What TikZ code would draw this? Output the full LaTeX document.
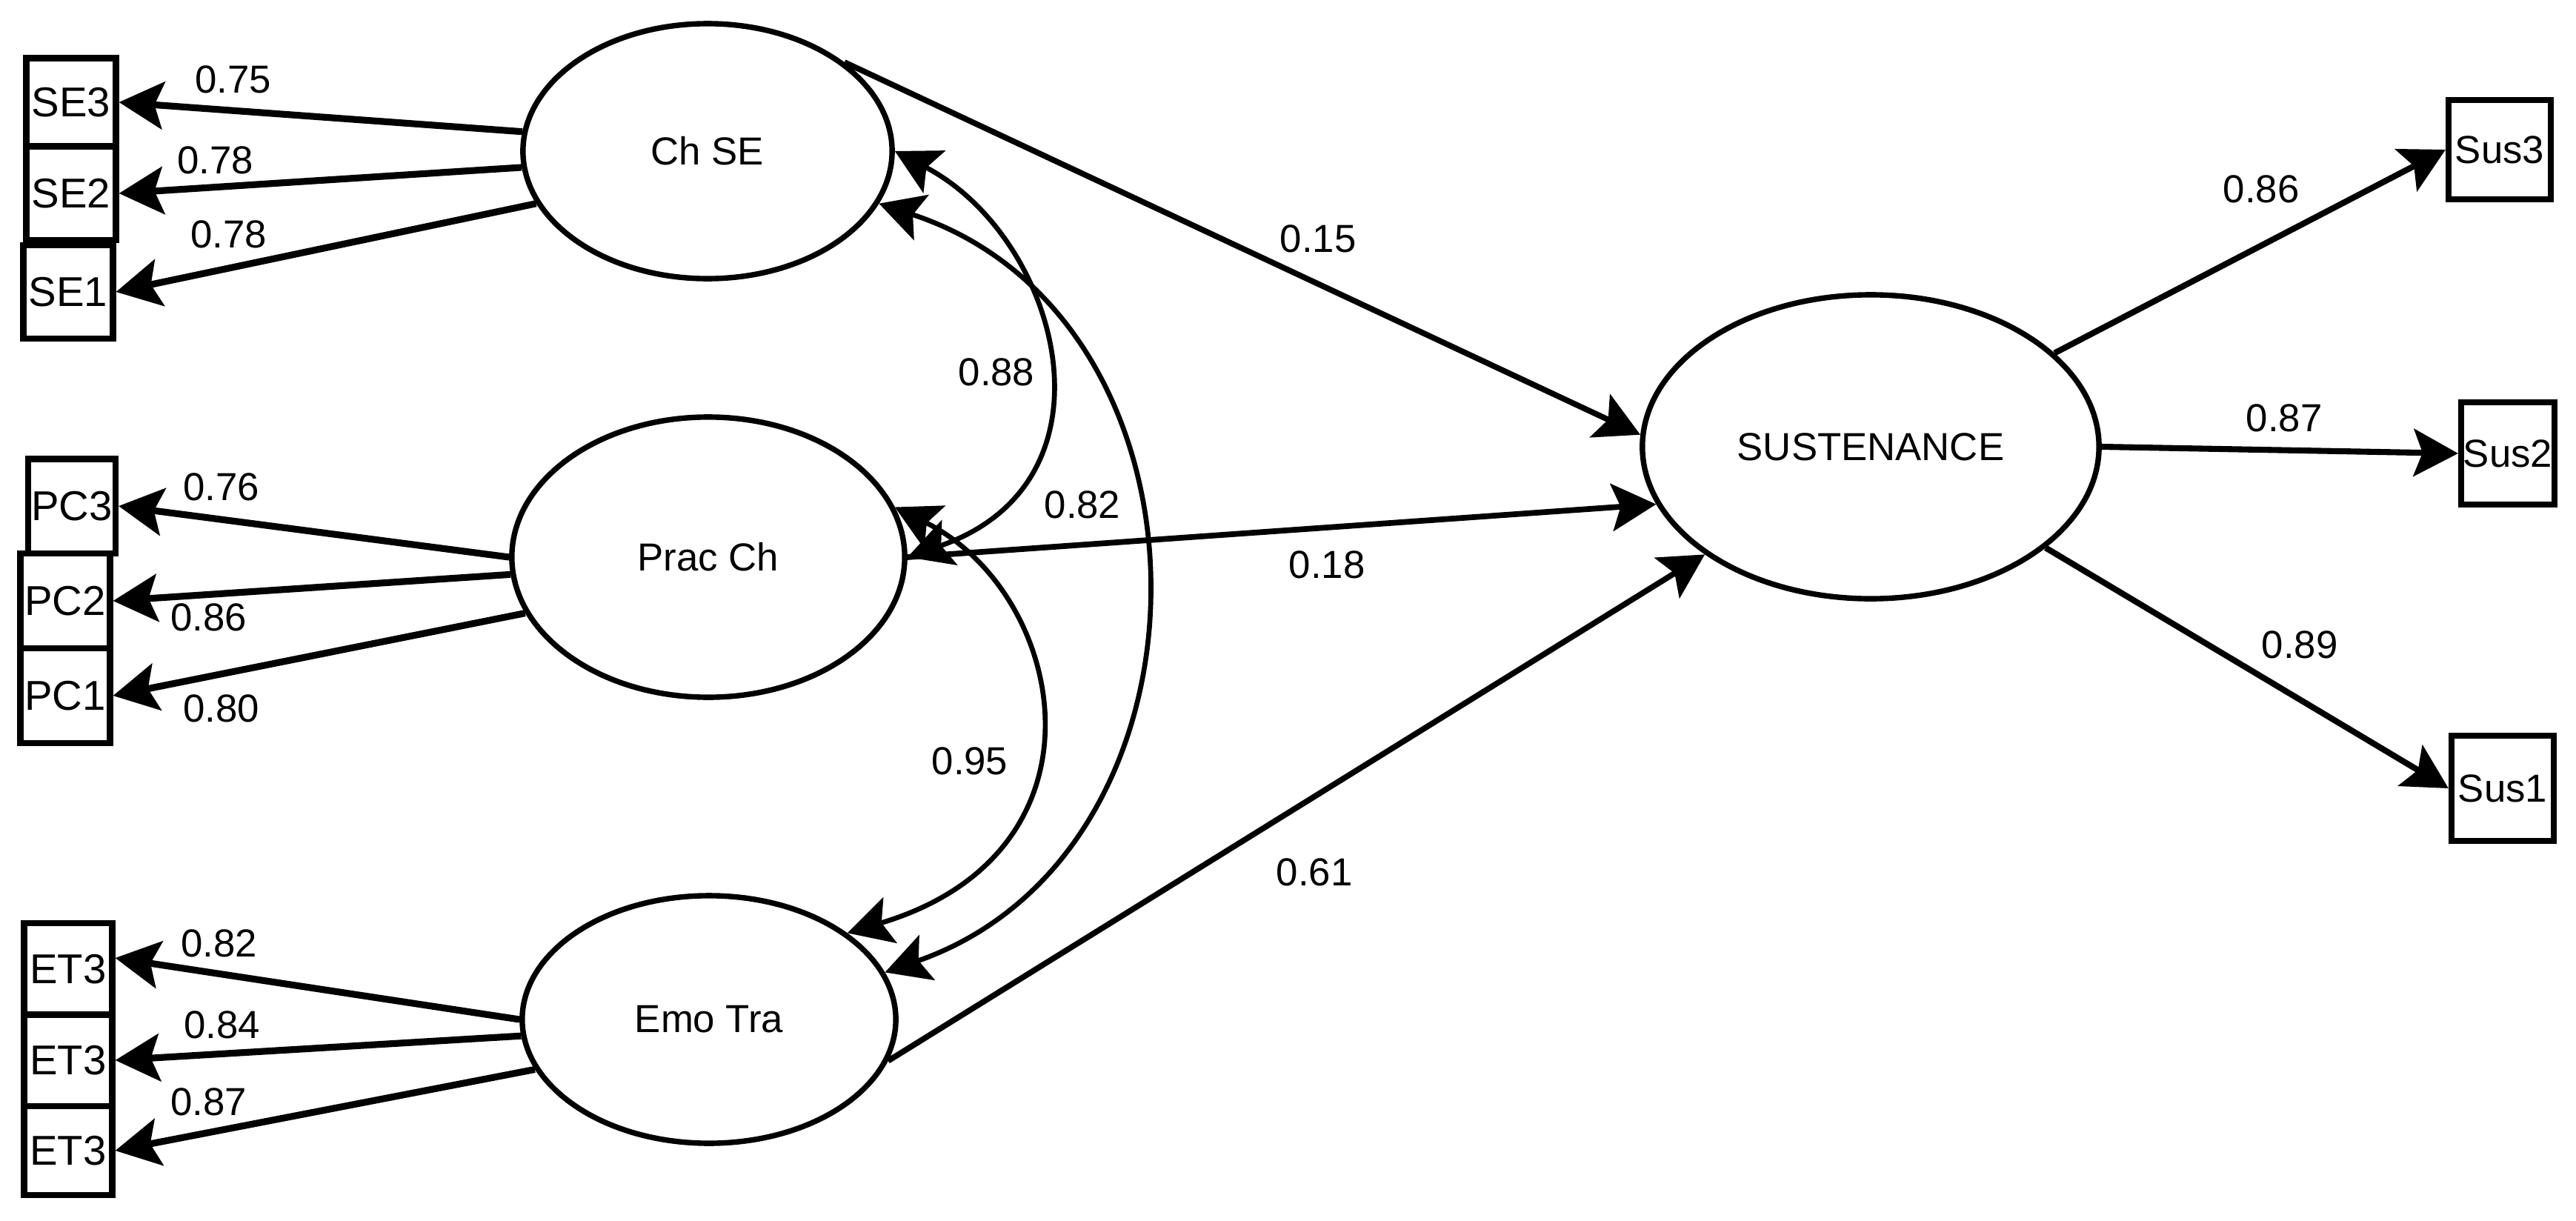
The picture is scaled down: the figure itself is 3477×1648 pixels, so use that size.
\documentclass[tikz,border=0pt]{standalone}
\usepackage{fontspec}
\setmainfont{Liberation Sans}
\usetikzlibrary{arrows.meta,shapes.geometric}
\begin{document}
\begin{tikzpicture}[x=0.01cm, y=-0.01cm,
  txt/.style={font=\fontsize{15}{18}\selectfont},
  lat/.style={ellipse, draw, line width=2.1pt, inner sep=0pt, txt},
  obs/.style={rectangle, draw, line width=2.3pt, inner sep=0pt, font=\fontsize{16}{19}\selectfont},
  lbl/.style={inner sep=0pt, txt},
  head/.style={Stealth[length=0.6cm,width=0.64cm,inset=0.12cm]},
  tip/.style={-{Stealth[length=0.6cm,width=0.64cm,inset=0.12cm]}},
  ldL/.style={line width=2.6pt, tip},
  ldR/.style={line width=2.3pt, tip},
  pth/.style={line width=2.2pt, tip},
  cov/.style={line width=1.9pt, {Stealth[length=0.6cm,width=0.64cm,inset=0.12cm]}-{Stealth[length=0.6cm,width=0.64cm,inset=0.12cm]}}
]
\fill[white] (0,0) rectangle (3477,1648);
\useasboundingbox (0,0) rectangle (3477,1648);

% latent variables
\node[lat, minimum width=4.98cm, minimum height=3.44cm] (ChSE) at (955,204) {Ch SE};
\node[lat, minimum width=5.30cm, minimum height=3.78cm] (PracCh) at (956,752) {Prac Ch};
\node[lat, minimum width=5.04cm, minimum height=3.34cm] (EmoTra) at (957,1376) {Emo Tra};
\node[lat, minimum width=6.16cm, minimum height=4.10cm] (SUST) at (2525,603) {SUSTENANCE};

% indicators
\node[obs, minimum width=1.21cm, minimum height=1.19cm] (SE3) at (96,138) {SE3};
\node[obs, minimum width=1.21cm, minimum height=1.26cm] (SE2) at (96,261) {SE2};
\node[obs, minimum width=1.21cm, minimum height=1.26cm] (SE1) at (92,394) {SE1};
\node[obs, minimum width=1.18cm, minimum height=1.27cm] (PC3) at (97,683) {PC3};
\node[obs, minimum width=1.21cm, minimum height=1.28cm] (PC2) at (88,811) {PC2};
\node[obs, minimum width=1.21cm, minimum height=1.28cm] (PC1) at (88,939) {PC1};
\node[obs, minimum width=1.19cm, minimum height=1.24cm] (ET3a) at (92,1308) {ET3};
\node[obs, minimum width=1.19cm, minimum height=1.23cm] (ET3b) at (92,1431) {ET3};
\node[obs, minimum width=1.19cm, minimum height=1.20cm] (ET3c) at (92,1553) {ET3};
\node[obs, minimum width=1.38cm, minimum height=1.34cm, font=\fontsize{15}{18}\selectfont] (Sus3) at (3374,202) {Sus3};
\node[obs, minimum width=1.26cm, minimum height=1.38cm, font=\fontsize{15}{18}\selectfont] (Sus2) at (3385,612) {Sus2};
\node[obs, minimum width=1.38cm, minimum height=1.42cm, font=\fontsize{15}{18}\selectfont] (Sus1) at (3378,1064) {Sus1};

% loadings left
\draw[ldL] (ChSE.174) -- (SE3.east);
\draw[ldL] (ChSE.185) -- (SE2.east);
\draw[ldL] (ChSE.197) -- (SE1.east);
\draw[ldL] (PracCh.180) -- (PC3.east);
\draw[ldL] (PracCh.185) -- (PC2.east);
\draw[ldL] (PracCh.197) -- (PC1.east);
\draw[ldL] (EmoTra.180) -- ([yshift=0.15cm]ET3a.east);
\draw[ldL] (EmoTra.185) -- (ET3b.east);
\draw[ldL] (EmoTra.196) -- (ET3c.east);

% loadings right
\draw[ldR] (SUST.27) -- (Sus3.west);
\draw[ldR] (SUST.east) -- (Sus2.west);
\draw[ldR] (SUST.-30) -- (Sus1.west);

% structural paths
\draw[pth] (ChSE.33) -- (SUST.177);
\draw[pth] (PracCh.east) -- (SUST.195);
\draw[pth] (EmoTra.-13) -- (SUST.213);

% covariances
\draw[cov] (ChSE.east) .. controls (1430,320) and (1520,650) .. (PracCh.east);
\draw[cov] (ChSE.-17) .. controls (1660,430) and (1660,1150) .. (EmoTra.15);
\draw[cov] (PracCh.15) .. controls (1440,800) and (1510,1150) .. (EmoTra.32);

% labels
\node[lbl] (l1) at (315,107) {0.75};
\node[lbl] (l2) at (291,216) {0.78};
\node[lbl] (l3) at (309,316) {0.78};
\node[lbl] (l4) at (299,657) {0.76};
\node[lbl] (l5) at (282,833) {0.86};
\node[lbl] (l6) at (299,956) {0.80};
\node[lbl] (l7) at (296,1273) {0.82};
\node[lbl] (l8) at (300,1383) {0.84};
\node[lbl] (l9) at (282,1487) {0.87};
\node[lbl] (l10) at (1779,322) {0.15};
\node[lbl] (l11) at (1345,502) {0.88};
\node[lbl] (l12) at (1461,681) {0.82};
\node[lbl] (l13) at (1791,762) {0.18};
\node[lbl] (l14) at (1309,1027) {0.95};
\node[lbl] (l15) at (1774,1177) {0.61};
\node[lbl] (l16) at (3052,255) {0.86};
\node[lbl] (l17) at (3083,564) {0.87};
\node[lbl] (l18) at (3104,870) {0.89};
\end{tikzpicture}
\end{document}
